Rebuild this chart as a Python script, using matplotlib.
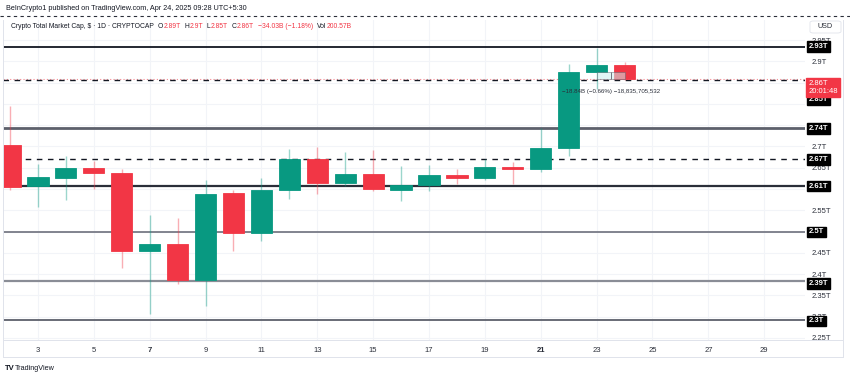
'''
Crypto total market cap daily candles with support / resistance levels.
'''

from matplotlib import pyplot as plt
from matplotlib.patches import Rectangle, FancyBboxPatch

plt.rcParams['font.family'] = ['Liberation Sans', 'DejaVu Sans']

# daily candles, April 2025 (values in trillions)
days = [2, 3, 4, 5, 6, 7, 8, 9, 10, 11, 12, 13, 14, 15, 16, 17, 18, 19,
        20, 21, 22, 23, 24]
opens = [2.703, 2.608, 2.625, 2.649, 2.637, 2.454, 2.470, 2.386, 2.590,
         2.496, 2.597, 2.670, 2.615, 2.636, 2.598, 2.609, 2.633, 2.625,
         2.651, 2.647, 2.696, 2.875, 2.892]
highs = [2.795, 2.659, 2.677, 2.666, 2.646, 2.539, 2.532, 2.621, 2.597,
         2.625, 2.693, 2.699, 2.687, 2.691, 2.653, 2.657, 2.648, 2.670,
         2.663, 2.743, 2.894, 2.931, 2.898]
lows = [2.598, 2.558, 2.574, 2.599, 2.414, 2.306, 2.378, 2.326, 2.454,
        2.479, 2.576, 2.588, 2.606, 2.595, 2.572, 2.596, 2.612, 2.620,
        2.611, 2.639, 2.677, 2.835, 2.856]
closes = [2.605, 2.628, 2.649, 2.637, 2.454, 2.470, 2.386, 2.588, 2.496,
          2.597, 2.670, 2.615, 2.636, 2.600, 2.609, 2.633, 2.625, 2.651,
          2.647, 2.696, 2.875, 2.892, 2.858]

# horizontal levels drawn on the chart
solid_levels = [2.934, 2.743, 2.607, 2.499, 2.384, 2.292]
solid_colors = ['#131722', '#5d606b', '#2a2e39', '#787b86', '#8a8d96', '#5d606b']
solid_widths = [1.3, 2.0, 1.6, 1.3, 1.6, 1.3]
dashed_levels = [2.856, 2.670]

# boxed labels on the price scale (text, position)
level_labels = ['2.93T', '2.85T', '2.74T', '2.67T', '2.61T', '2.5T', '2.39T', '2.3T']
level_label_pos = [2.934, 2.811, 2.743, 2.670, 2.607, 2.499, 2.378, 2.290]

price_ticks = [2.25, 2.3, 2.35, 2.4, 2.45, 2.5, 2.55, 2.6, 2.65, 2.7,
               2.75, 2.8, 2.85, 2.9, 2.95]
price_tick_labels = ['2.25T', '2.3T', '2.35T', '2.4T', '2.45T', '2.5T',
                     '2.55T', '2.6T', '2.65T', '2.7T', '2.75T', '2.8T',
                     '2.85T', '2.9T', '2.95T']
day_ticks = [3, 5, 7, 9, 11, 13, 15, 17, 19, 21, 23, 25, 27, 29]

UP = '#089981'
DOWN = '#f23645'
GRID = '#f2f4f8'
BORDER = '#e0e3eb'
INK = '#131722'


def main():
    fig = plt.figure(figsize=(8.5, 3.78), dpi=100)
    ax = fig.add_axes([3 / 850, 1 - 340 / 378, 802 / 850, 320 / 378])
    ax.set_xlim(1.75, 30.46)
    ax.set_ylim(2.2453, 2.997)

    for s in ax.spines.values():
        s.set_visible(False)

    # grid
    for t in price_ticks:
        ax.axhline(t, color=GRID, lw=0.8, zorder=0)
    for d in day_ticks:
        ax.axvline(d, color=GRID, lw=0.8, zorder=0)

    # candles
    for d, o, h, l, c in zip(days, opens, highs, lows, closes):
        col = UP if c >= o else DOWN
        ax.vlines(d, l, h, color=col, lw=1.0, alpha=0.4, zorder=3)
        ax.bar(d, max(abs(c - o), 0.003), bottom=min(o, c), width=0.76,
               color=col, edgecolor=col, lw=0.6, zorder=4)

    # levels
    for lv, col, w in zip(solid_levels, solid_colors, solid_widths):
        ax.axhline(lv, color=col, lw=w, zorder=2)
    ax.axhline(closes[-1], color=DOWN, lw=0.8, ls=(0, (1, 2)), alpha=0.6,
               zorder=2)
    for lv in dashed_levels:
        ax.axhline(lv, color=INK, lw=1.0, ls=(0, (4, 4)), zorder=2)

    # measurement box
    ax.add_patch(Rectangle((23.0, closes[-1]), 1.0, 2.875 - closes[-1],
                           facecolor='#cdeeee', edgecolor='#5d606b',
                           lw=0.6, alpha=0.55, zorder=5))
    ax.vlines(23.5, closes[-1], 2.875, color='#5d606b', lw=0.6, zorder=5)
    ax.text(23.5, 2.828, '\u221218.84B (\u22120.66%) \u221218,835,705,532',
            fontsize=4.4, color='#2a2e39', ha='center', va='center',
            zorder=6)

    # axes ticks
    ax.yaxis.tick_right()
    ax.set_yticks(price_ticks)
    ax.set_yticklabels(price_tick_labels)
    ax.tick_params(axis='y', length=0, pad=5, labelsize=5.5,
                   labelcolor='#2a2e39')
    ax.set_xticks(day_ticks)
    ax.set_xticklabels([str(d) for d in day_ticks])
    ax.tick_params(axis='x', length=0, pad=5, labelsize=5.5,
                   labelcolor='#2a2e39')
    for lab in ax.get_xticklabels():
        if lab.get_text() in ('7', '21'):
            lab.set_fontweight('bold')

    # level labels on the price scale
    ytr = ax.get_yaxis_transform()
    for txt, pos in zip(level_labels, level_label_pos):
        ax.text(1.0045, pos, txt, transform=ytr, fontsize=5.5,
                color='white', fontweight='bold', ha='left', va='center',
                clip_on=False, zorder=10,
                bbox=dict(boxstyle='square,pad=0.25', fc='#000000',
                          ec='#000000'))
    ax.text(1.0045, 2.8385, '2.86T\n20:01:48', transform=ytr, fontsize=5.5,
            color='white', ha='left', va='center', linespacing=1.05,
            clip_on=False, zorder=10,
            bbox=dict(boxstyle='square,pad=0.3', fc=DOWN, ec=DOWN))

    # frame and header
    fig.add_artist(plt.Line2D([0, 1], [1 - 16 / 378] * 2, color='#2a2e39',
                              lw=0.8, ls=(0, (3, 3))))
    for yy in (340, 357):
        fig.add_artist(plt.Line2D([3 / 850, 843 / 850], [1 - yy / 378] * 2,
                                  color=BORDER, lw=0.7))
    for xx in (3, 843):
        fig.add_artist(plt.Line2D([xx / 850] * 2, [1 - 357 / 378, 1 - 20 / 378],
                                  color=BORDER, lw=0.7))

    fig.text(6 / 850, 1 - 8 / 378,
             'BeInCrypto1 published on TradingView.com, Apr 24, 2025 09:28 UTC+5:30',
             fontsize=5.2, color=INK, va='center')

    # legend row, pieces placed one after another
    hy = 1 - 26 / 378
    pieces = [('Crypto Total Market Cap, $ \u00b7 1D \u00b7 CRYPTOCAP', INK, 4),
              ('O', INK, 0), ('2.89T', DOWN, 4),
              ('H', INK, 0), ('2.9T', DOWN, 4),
              ('L', INK, 0), ('2.85T', DOWN, 4),
              ('C', INK, 0), ('2.86T', DOWN, 4),
              ('\u221234.03B (\u22121.18%)', DOWN, 4),
              ('Vol', INK, 0), ('200.57B', DOWN, 0)]
    renderer = fig.canvas.get_renderer()
    xp = 11.0
    for txt, col, gap in pieces:
        t = fig.text(xp / 850, hy, txt, fontsize=4.9, color=col, va='center')
        xp += t.get_window_extent(renderer).width + gap

    fig.add_artist(FancyBboxPatch((810 / 850, 1 - 33 / 378), 31 / 850,
                                  12 / 378, boxstyle='round,pad=0,rounding_size=0.004',
                                  transform=fig.transFigure, fc='white',
                                  ec=BORDER, lw=0.6))
    fig.text(825.5 / 850, 1 - 26.5 / 378, 'USD', fontsize=5.2,
             color='#2a2e39', va='center', ha='center')

    fig.text(5 / 850, 1 - 368 / 378, 'TV', fontsize=5.5, fontweight='bold',
             color=INK, va='center')
    fig.text(15 / 850, 1 - 368 / 378, 'TradingView', fontsize=5.2,
             color=INK, va='center')

    fig.savefig('out.png', dpi=100)


if __name__ == "__main__":
    main()
